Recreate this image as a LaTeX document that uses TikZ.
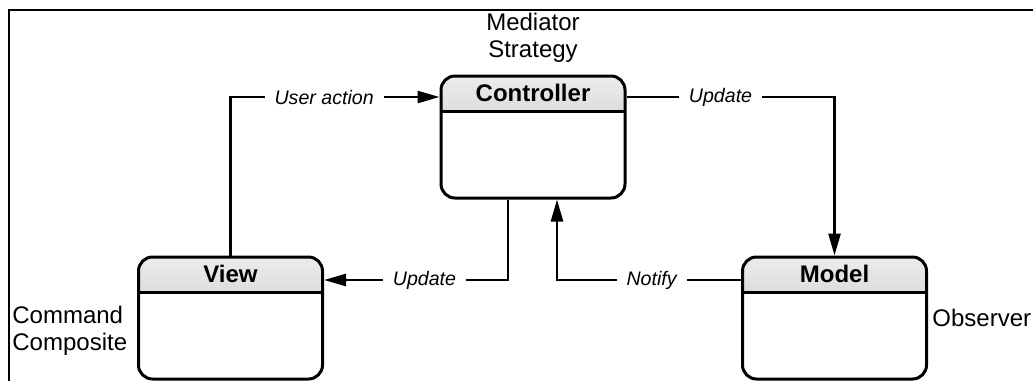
\documentclass[tikz,border=0pt]{standalone}
\usepackage{fontspec}
\setmainfont{Liberation Sans}
\usetikzlibrary{arrows.meta}

\begin{document}
\begin{tikzpicture}[x=0.5pt,y=-0.5pt,
    mvcbox/.style={draw, line width=1.5pt, rounded corners=7pt, minimum width=92pt, minimum height=61pt, inner sep=0pt,
      path picture={
        \shade[sharp corners, top color=gray!15, bottom color=gray!55] (path picture bounding box.north west) rectangle ([yshift=-17.5pt]path picture bounding box.north east);
        \draw[sharp corners, line width=1.5pt] ([yshift=-17.5pt]path picture bounding box.north west) -- ([yshift=-17.5pt]path picture bounding box.north east);}},
    boxtitle/.style={font=\bfseries\fontsize{12}{14}\selectfont, inner sep=0pt},
    note/.style={font=\fontsize{12}{13.5}\selectfont, inner sep=0pt},
    conn/.style={line width=1.3pt},
    tip/.style={-{Triangle[length=11pt,width=6pt]}},
    lbl/.style={fill=white, inner xsep=5pt, inner ysep=1pt, font=\itshape\fontsize{9.8}{12}\selectfont}]
  \useasboundingbox (0,0) rectangle (1033,381);
  \draw[line width=1pt] (9,381) -- (9,10) -- (1033,10);
  % boxes
  \node[mvcbox] (ctrl) at (533,137) {};
  \node[mvcbox] (view) at (230.5,318) {};
  \node[mvcbox] (model) at (834.5,318) {};
  \node[boxtitle] (ctrltitle) at ([yshift=-9pt]ctrl.north) {Controller};
  \node[boxtitle] (viewtitle) at ([yshift=-9pt]view.north) {View};
  \node[boxtitle] (modeltitle) at ([yshift=-9pt]model.north) {Model};
  % pattern names
  \node[note, align=center] (medtext) at (533,38) {Mediator\\Strategy};
  \node[note, align=left, anchor=west] (cmdtext) at (12,331) {Command\\Composite};
  \node[note, anchor=west] (obstext) at (932,318) {Observer};
  % connectors
  \coordinate (hitop) at (0,97);
  \coordinate (hilow) at (0,280);
  \draw[conn, tip] (view.north) |- (ctrl.west |- hitop) node[lbl, pos=0.724] {User action};
  \draw[conn, tip] (ctrl.east |- hitop) -| (model.north) node[lbl, pos=0.226] {Update};
  \draw[conn, tip] ([xshift=-12.5pt]ctrl.south) |- (view.east |- hilow) node[lbl, pos=0.727] {Update};
  \draw[conn, tip] (model.west |- hilow) -| ([xshift=12pt]ctrl.south) node[lbl, pos=0.243] {Notify};
\end{tikzpicture}
\end{document}
